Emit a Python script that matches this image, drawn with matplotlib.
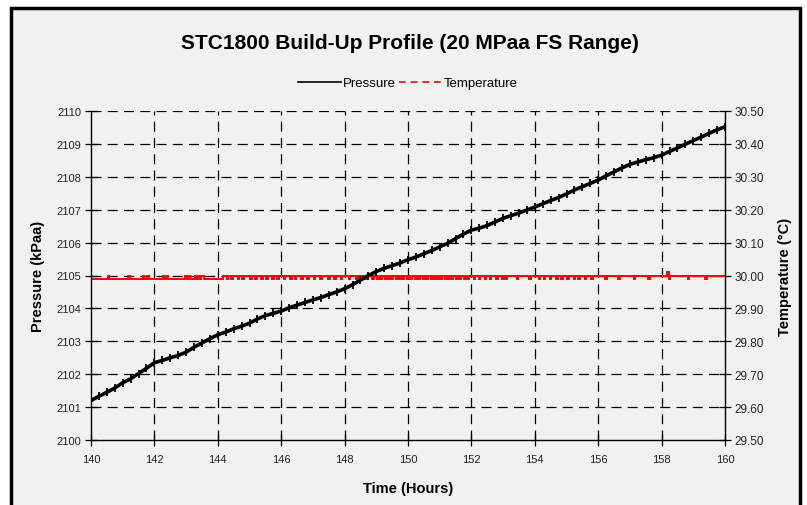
import matplotlib
matplotlib.use("Agg")
import matplotlib.pyplot as plt
from matplotlib.lines import Line2D
from matplotlib.patches import Rectangle
import numpy as np

plt.rcParams['font.family'] = ['Liberation Sans', 'DejaVu Sans']

# ---------------- data ----------------
time_p = [140.00, 140.25, 140.50, 140.75, 141.00, 141.25, 141.50, 141.75,
          142.00, 142.25, 142.50, 142.75, 143.00, 143.25, 143.50, 143.75,
          144.00, 144.25, 144.50, 144.75, 145.00, 145.25, 145.50, 145.75,
          146.00, 146.25, 146.50, 146.75, 147.00, 147.25, 147.50, 147.75,
          148.00, 148.25, 148.50, 148.75, 149.00, 149.25, 149.50, 149.75,
          150.00, 150.25, 150.50, 150.75, 151.00, 151.25, 151.50, 151.75,
          152.00, 152.25, 152.50, 152.75, 153.00, 153.25, 153.50, 153.75,
          154.00, 154.25, 154.50, 154.75, 155.00, 155.25, 155.50, 155.75,
          156.00, 156.25, 156.50, 156.75, 157.00, 157.25, 157.50, 157.75,
          158.00, 158.25, 158.50, 158.75, 159.00, 159.25, 159.50, 159.75,
          160.00]
pressure = [2101.20, 2101.33, 2101.45, 2101.58, 2101.74, 2101.86, 2102.02, 2102.18,
            2102.35, 2102.42, 2102.50, 2102.57, 2102.67, 2102.82, 2102.95, 2103.08,
            2103.20, 2103.28, 2103.38, 2103.46, 2103.55, 2103.68, 2103.78, 2103.85,
            2103.92, 2104.02, 2104.10, 2104.18, 2104.26, 2104.33, 2104.42, 2104.50,
            2104.60, 2104.72, 2104.86, 2105.00, 2105.12, 2105.22, 2105.30, 2105.38,
            2105.48, 2105.56, 2105.66, 2105.76, 2105.87, 2105.98, 2106.12, 2106.26,
            2106.38, 2106.44, 2106.52, 2106.63, 2106.74, 2106.82, 2106.90, 2106.99,
            2107.08, 2107.18, 2107.28, 2107.37, 2107.48, 2107.60, 2107.70, 2107.80,
            2107.90, 2108.03, 2108.15, 2108.27, 2108.38, 2108.45, 2108.52, 2108.58,
            2108.66, 2108.77, 2108.88, 2108.99, 2109.10, 2109.21, 2109.32, 2109.43,
            2109.52]

# Temperature readings every 0.05 h from 140 to 160 (codes: 0=29.99, 1=30.00, 2=30.01)
temp_start = 140.0
temp_step = 0.05
temp_levels = [29.99, 30.00, 30.01]
temp_codes = (
    "00000000000100000000"  # 140
    "00001000000001001000"  # 141
    "00000010100000000000"  # 142
    "10100010101100000000"  # 143
    "00001101101110110111"  # 144
    "10110111011011101101"  # 145
    "11011101101110111011"  # 146
    "10111011110111011101"  # 147
    "11101111011110111101"  # 148
    "10101101010110101011"  # 149
    "01011010110101101010"  # 150
    "10110101011010110101"  # 151
    "11011011101101110111"  # 152
    "01011111101111111011"  # 153
    "11101101110111011011"  # 154
    "10111011011101110111"  # 155
    "11111011111110111111"  # 156
    "11101111111101111111"  # 157
    "11112011111111111011"  # 158
    "11111111011111111111"  # 159
    "1"                     # 160
)

x_ticks = [140, 142, 144, 146, 148, 150, 152, 154, 156, 158, 160]
p_ticks = [2100, 2101, 2102, 2103, 2104, 2105, 2106, 2107, 2108, 2109, 2110]
t_ticks = [29.5, 29.6, 29.7, 29.8, 29.9, 30.0, 30.1, 30.2, 30.3, 30.4, 30.5]

time_t = [temp_start + i * temp_step for i in range(len(temp_codes))]
temperature = [temp_levels[int(c)] for c in temp_codes]

# ---------------- figure ----------------
W, H = 807, 506
fig = plt.figure(figsize=(W / 100, H / 100), dpi=100, facecolor='white')
bg = '#f1f1f1'
fig.patches.append(Rectangle((11 / W, -2.0 / H), (800 - 11) / W, (H - 9 + 2) / H,
                             transform=fig.transFigure, facecolor=bg,
                             edgecolor='black', linewidth=2.5, zorder=-10))

left, right, top, bottom = 91, 725, 112, 441
ax = fig.add_axes([left / W, 1 - bottom / H, (right - left) / W, (bottom - top) / H])
ax.set_facecolor(bg)
ax2 = ax.twinx()
ax2.set_zorder(1)
ax.set_zorder(2)
ax.patch.set_visible(False)
ax2.patch.set_visible(True)
ax2.patch.set_facecolor(bg)

# gridlines
for xv in x_ticks[1:-1]:
    ax2.axvline(xv, color='black', lw=0.9, ls=(0, (8, 5)), zorder=1)
for yv in t_ticks[1:]:
    ax2.axhline(yv, color='black', lw=0.9, ls=(0, (8, 5)), zorder=1)

ax2.plot(time_t, temperature, color='#ff0000', lw=1.4, drawstyle='steps-mid',
         solid_joinstyle='miter', zorder=3)
ax.plot(time_p, pressure, color='black', lw=2.6, zorder=4,
        marker='|', ms=6, mew=1.3)

ax.set_xlim(140, 160)
ax.set_ylim(2100, 2110)
ax2.set_ylim(29.5, 30.5)
ax.set_xticks(x_ticks)
ax.set_yticks(p_ticks)
ax2.set_yticks(t_ticks)
ax2.set_yticklabels([f"{v:.2f}" for v in t_ticks])

for a in (ax, ax2):
    a.spines['top'].set_visible(False)
    for s in a.spines.values():
        s.set_linewidth(1.0)
ax.spines['right'].set_visible(False)
ax2.spines['left'].set_visible(False)
ax2.spines['bottom'].set_visible(False)

ax.tick_params(axis='both', direction='inout', length=8, width=0.9,
               labelsize=8, colors='black', labelcolor='#222222', pad=3)
ax2.tick_params(axis='y', direction='inout', length=8, width=0.9,
                labelsize=8.5, labelcolor='#222222', pad=3)
ax.tick_params(axis='x', pad=6)

ax.set_xlabel('Time (Hours)', fontsize=10.5, fontweight='bold', labelpad=12)
ax.set_ylabel('Pressure (kPaa)', fontsize=10.5, fontweight='bold', labelpad=8)
ax2.set_ylabel('Temperature (°C)', fontsize=10.5, fontweight='bold', labelpad=10)

fig.text(410 / W, 1 - 44 / H, 'STC1800 Build-Up Profile (20 MPaa FS Range)',
         ha='center', va='center', fontsize=15, fontweight='bold')

handles = [Line2D([], [], color='black', lw=1.2),
           Line2D([], [], color='#ff0000', lw=1.2, ls=(0, (4, 3)))]
fig.legend(handles, ['Pressure', 'Temperature'], loc='center',
           bbox_to_anchor=(408 / W, 1 - 84 / H), ncol=2, frameon=False,
           fontsize=9.5, handlelength=3.2, handletextpad=0.15, columnspacing=0.3)

fig.savefig('out.png', dpi=100, facecolor='white')
